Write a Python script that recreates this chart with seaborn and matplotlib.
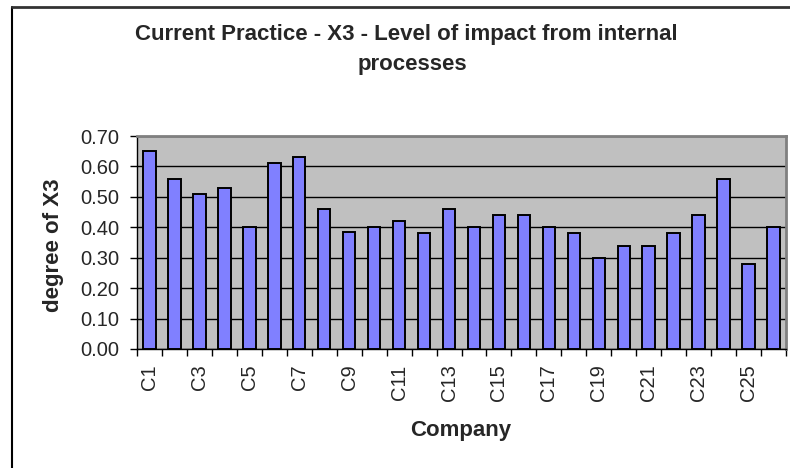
import matplotlib
matplotlib.use("Agg")
import matplotlib.pyplot as plt
import seaborn as sns
import pandas as pd
from matplotlib.lines import Line2D
from matplotlib.ticker import FixedLocator, FormatStrFormatter

companies = [f"C{i}" for i in range(1, 27)]
x3_values = [0.65, 0.56, 0.51, 0.53, 0.40, 0.61, 0.63, 0.46, 0.385, 0.40,
             0.42, 0.38, 0.46, 0.40, 0.44, 0.44, 0.40, 0.38, 0.30, 0.34,
             0.34, 0.38, 0.44, 0.56, 0.28, 0.40]
y_ticks = [0.0, 0.1, 0.2, 0.3, 0.4, 0.5, 0.6, 0.7]
title_lines = ["Current Practice - X3 - Level of impact from internal", "processes"]
x_label = "Company"
y_label = "degree of X3"

sns.set_style("white")
plt.rcParams["font.family"] = ["Liberation Sans", "DejaVu Sans"]

df = pd.DataFrame({"company": companies, "value": x3_values})

fig = plt.figure(figsize=(7.9, 4.68), dpi=100)
ax = fig.add_axes([137/790, 1-349/468, (786-137)/790, (349-136)/468])

sns.barplot(data=df, x="company", y="value", ax=ax, color="#8080FF",
            saturation=1, edgecolor="black", linewidth=1.4, width=0.5, zorder=3)

ax.set_facecolor("#C0C0C0")
ax.set_xlim(-0.5, len(companies) - 0.5)
ax.set_ylim(0, 0.7)
ax.set_yticks(y_ticks)
ax.yaxis.set_major_formatter(FormatStrFormatter("%.2f"))
ax.grid(axis="y", color="black", linewidth=1.0, zorder=0)
ax.grid(axis="x", visible=False)
ax.set_axisbelow(True)

# category labels every other company
pos = list(range(0, len(companies), 2))
ax.set_xticks(pos)
ax.set_xticklabels([companies[i] for i in pos], rotation=90)
ax.xaxis.set_minor_locator(FixedLocator([i - 0.5 for i in range(len(companies) + 1)]))
ax.tick_params(axis="x", which="major", length=0, pad=11, labelsize=14.5)
ax.tick_params(axis="x", which="minor", length=5, width=1, color="black", direction="out")
ax.tick_params(axis="y", length=5, width=1, color="black", direction="out", pad=8, labelsize=14.5)
ax.xaxis.set_ticks_position("bottom")
ax.yaxis.set_ticks_position("left")

ax.set_xlabel("")
ax.set_ylabel("")
for s in ["left", "bottom"]:
    ax.spines[s].set_color("black")
    ax.spines[s].set_linewidth(1.0)
for s in ["top", "right"]:
    ax.spines[s].set_color("#808080")
    ax.spines[s].set_linewidth(2.0)

# titles
fig.text(406/790, 1-40/468, title_lines[0], ha="center", va="baseline",
         fontsize=16, fontweight="bold")
fig.text(412/790, 1-70/468, title_lines[1], ha="center", va="baseline",
         fontsize=16, fontweight="bold")
fig.text(461/790, 1-436/468, x_label, ha="center", va="baseline",
         fontsize=16, fontweight="bold")
fig.text(53.5/790, 1-245/468, y_label, ha="center", va="center", rotation=90,
         fontsize=16, fontweight="bold")

# chart frame (top and left visible)
x0 = 11.5/790
y0 = 1-7/468
fig.add_artist(Line2D([x0, x0], [0, y0], transform=fig.transFigure, color="black", linewidth=1.5))
fig.add_artist(Line2D([x0, 1], [y0, y0], transform=fig.transFigure, color="#333333", linewidth=2))

fig.savefig("out.png", dpi=100, facecolor="white")
